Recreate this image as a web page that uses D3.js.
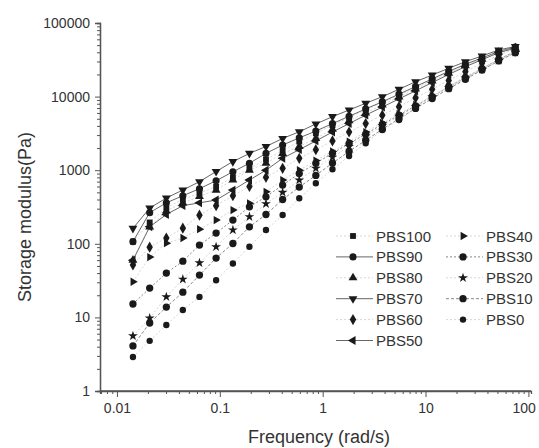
<!DOCTYPE html>
<html>
<head>
<meta charset="utf-8">
<script src="https://cdn.jsdelivr.net/npm/d3@7"></script>
<style>
  body { margin: 0; background: white; }
  text { font-family: "Liberation Sans", Arial, sans-serif; }
</style>
</head>
<body>
<div id="container"></div>
<script>
// angular frequency (rad/s), 24 points per sweep
let freq = [0.0143, 0.0208, 0.0302, 0.0437, 0.0634, 0.092, 0.134, 0.194, 0.281, 0.408,
  0.592, 0.858, 1.245, 1.806, 2.62, 3.8, 5.52, 8.0, 11.6, 16.8, 24.4, 35.4, 51.4, 74.6];

let seriesNames = ["PBS100", "PBS90", "PBS80", "PBS70", "PBS60", "PBS50",
  "PBS40", "PBS30", "PBS20", "PBS10", "PBS0"];

// storage modulus G' (Pa)
let pbs100 = [107, 195, 310, 400, 490, 595, 800, 1050, 1400, 1850, 2450, 3170, 4100, 5200, 6600, 8300, 10500, 13300, 17000, 21500, 27000, 33000, 40500, 46500];
let pbs90 = [107, 265, 360, 450, 560, 720, 950, 1245, 1690, 2200, 2750, 3400, 4300, 5400, 6800, 8500, 10800, 13700, 17400, 22000, 27500, 33500, 41000, 47000];
let pbs80 = [60, 170, 280, 360, 440, 537, 735, 1000, 1245, 1690, 2100, 2700, 3600, 4700, 6000, 7700, 9900, 12700, 16300, 20800, 26300, 32300, 40000, 46000];
let pbs70 = [162, 306, 419, 538, 698, 960, 1310, 1690, 2100, 2700, 3325, 4246, 5335, 6580, 8110, 9970, 12570, 15930, 19640, 24250, 29800, 35600, 43000, 48000];
let pbs60 = [51.5, 90, 120, 163, 245, 330, 450, 600, 800, 1060, 1450, 1900, 2500, 3300, 4300, 5600, 7300, 9600, 12600, 16600, 21800, 28500, 36500, 45000];
let pbs50 = [60, 170, 250, 330, 360, 393, 537, 735, 1000, 1450, 1900, 2500, 3300, 4300, 5600, 7200, 9300, 12000, 15500, 20000, 25500, 31700, 39500, 45500];
let pbs40 = [30.5, 66, 102, 120, 158, 210, 287, 355, 508, 735, 1000, 1350, 1800, 2450, 3300, 4400, 5800, 7700, 10200, 13600, 18000, 24000, 32000, 41000];
let pbs30 = [15.2, 25, 40, 58, 96, 140, 210, 318, 435, 628, 900, 1245, 1700, 2300, 3100, 4200, 5600, 7500, 10000, 13500, 18000, 24000, 32000, 41000];
let pbs20 = [5.6, 9.8, 19, 33, 55, 91, 154, 233, 350, 500, 735, 1060, 1500, 2100, 2900, 4000, 5400, 7300, 9900, 13300, 17800, 23500, 31000, 40000];
let pbs10 = [4.1, 8.4, 13.8, 22, 37.6, 64, 101, 170, 250, 400, 590, 850, 1250, 1800, 2550, 3600, 5000, 6900, 9400, 12800, 17200, 23000, 30500, 39500];
let pbs0 = [2.9, 4.8, 7.9, 12.6, 19, 32, 54, 91, 154, 246, 415, 665, 1030, 1560, 2320, 3516, 4810, 7000, 10000, 14000, 18500, 24000, 31000, 39000];

let xTickValues = [0.01, 0.1, 1, 10, 100];
let xTickLabels = ["0.01", "0.1", "1", "10", "100"];
let yTickValues = [1, 10, 100, 1000, 10000, 100000];
let yTickLabels = ["1", "10", "100", "1000", "10000", "100000"];

let allSeries = [pbs100, pbs90, pbs80, pbs70, pbs60, pbs50, pbs40, pbs30, pbs20, pbs10, pbs0];

let w = 539;
let h = 448;

let viz = d3.select("#container")
  .append("svg")
    .attr("width", w)
    .attr("height", h)
    .style("background-color", "white")
;

let xScale = d3.scaleLog().domain([0.00684, 106]).range([100, 531]);
let yScale = d3.scaleLog().domain([1, 100000]).range([391, 23]);

// marker shapes, in legend order
let shapes = [
  { type: d3.symbolSquare, rot: 0, size: 34 },
  { type: d3.symbolCircle, rot: 0, size: 40 },
  { type: d3.symbolTriangle, rot: 0, size: 34 },
  { type: d3.symbolTriangle, rot: 180, size: 34 },
  { type: d3.symbolDiamond, rot: 0, size: 36 },
  { type: d3.symbolTriangle, rot: -90, size: 34 },
  { type: d3.symbolTriangle, rot: 90, size: 30 },
  { type: d3.symbolCircle, rot: 0, size: 42 },
  { type: d3.symbolStar, rot: 0, size: 30 },
  { type: d3.symbolCircle, rot: 0, size: 42 },
  { type: d3.symbolCircle, rot: 0, size: 32 }
];

// line look per series
let lineStyles = [
  { stroke: "#d6d6d6", dash: "2,2" },
  { stroke: "#666", dash: null },
  { stroke: "#d6d6d6", dash: "2,2" },
  { stroke: "#666", dash: null },
  { stroke: "#d6d6d6", dash: "2,2" },
  { stroke: "#666", dash: null },
  { stroke: "#d6d6d6", dash: "2,2" },
  { stroke: "#888", dash: "2,2" },
  { stroke: "#d6d6d6", dash: "2,2" },
  { stroke: "#888", dash: "3,2" },
  { stroke: "#d6d6d6", dash: "2,2" }
];

function symbolPath(i) {
  return d3.symbol().type(shapes[i].type).size(shapes[i].size)();
}

// axes
let minorX = xScale.ticks().filter(function(d){ return xTickValues.indexOf(d) < 0; });
let minorY = yScale.ticks().filter(function(d){ return yTickValues.indexOf(d) < 0; });

let xMinor = viz.append("g")
  .attr("transform", "translate(0," + 391 + ")")
  .call(d3.axisBottom(xScale).tickValues(minorX).tickSize(3).tickFormat(""));
let xAxisGroup = viz.append("g")
  .attr("class", "xaxis")
  .attr("transform", "translate(0," + 391 + ")")
  .call(d3.axisBottom(xScale).tickValues(xTickValues).tickSize(6).tickPadding(6)
    .tickFormat(function(d, i){ return xTickLabels[i]; }));

let yMinor = viz.append("g")
  .attr("transform", "translate(100,0)")
  .call(d3.axisLeft(yScale).tickValues(minorY).tickSize(3).tickFormat(""));
let yAxisGroup = viz.append("g")
  .attr("class", "yaxis")
  .attr("transform", "translate(100,0)")
  .call(d3.axisLeft(yScale).tickValues(yTickValues).tickSize(5).tickPadding(5)
    .tickFormat(function(d, i){ return yTickLabels[i]; }));

viz.selectAll(".domain").attr("stroke", "#555").attr("stroke-width", 1.3);
viz.selectAll(".tick line").attr("stroke", "#555");
viz.selectAll(".tick text").attr("font-size", 14).attr("fill", "#333")
  .style("font-family", "'Liberation Sans', Arial, sans-serif");
xAxisGroup.select(".domain").attr("d", "M100,0H531");
// keep the last x label inside the picture edge
xAxisGroup.selectAll(".tick text").filter(function(d){ return d == 100; })
  .attr("text-anchor", "end").attr("dx", "7");

viz.append("text")
  .text("Storage modulus(Pa)")
  .attr("transform", "translate(31,217) rotate(-90)")
  .attr("text-anchor", "middle")
  .attr("font-size", 18)
  .attr("fill", "#333");

viz.append("text")
  .text("Frequency (rad/s)")
  .attr("x", 319)
  .attr("y", 443)
  .attr("text-anchor", "middle")
  .attr("font-size", 18)
  .attr("fill", "#333");

// data
let line = d3.line()
  .x(function(d, i){ return xScale(freq[i]); })
  .y(function(d){ return yScale(d); });

let vizGroup = viz.append("g").attr("class", "vizGroup");

allSeries.forEach(function(values, s){
  vizGroup.append("path")
    .datum(values)
    .attr("d", line)
    .attr("fill", "none")
    .attr("stroke", lineStyles[s].stroke)
    .attr("stroke-width", 1)
    .attr("stroke-dasharray", lineStyles[s].dash);
});

allSeries.forEach(function(values, s){
  vizGroup.selectAll(".pt" + s)
    .data(values)
    .enter()
    .append("path")
      .attr("class", "pt" + s)
      .attr("d", symbolPath(s))
      .attr("transform", function(d, i){
        return "translate(" + xScale(freq[i]) + "," + yScale(d) + ") rotate(" + shapes[s].rot + ")";
      })
      .attr("fill", "#1a1a1a");
});

// legend, two columns
let legend = viz.append("g").attr("class", "legend");
seriesNames.forEach(function(name, s){
  let col = s < 6 ? 0 : 1;
  let row = s < 6 ? s : s - 6;
  let cx = col == 0 ? 353 : 463;
  let cy = 236 + row * 20.9;
  legend.append("line")
    .attr("x1", cx - 17).attr("x2", cx + 20)
    .attr("y1", cy).attr("y2", cy)
    .attr("stroke", lineStyles[s].stroke)
    .attr("stroke-dasharray", lineStyles[s].dash);
  legend.append("path")
    .attr("d", symbolPath(s))
    .attr("transform", "translate(" + cx + "," + cy + ") rotate(" + shapes[s].rot + ")")
    .attr("fill", "#1a1a1a");
  legend.append("text")
    .text(name)
    .attr("x", cx + 23)
    .attr("y", cy + 5.5)
    .attr("font-size", 15)
    .attr("fill", "#333");
});
</script>
</body>
</html>
